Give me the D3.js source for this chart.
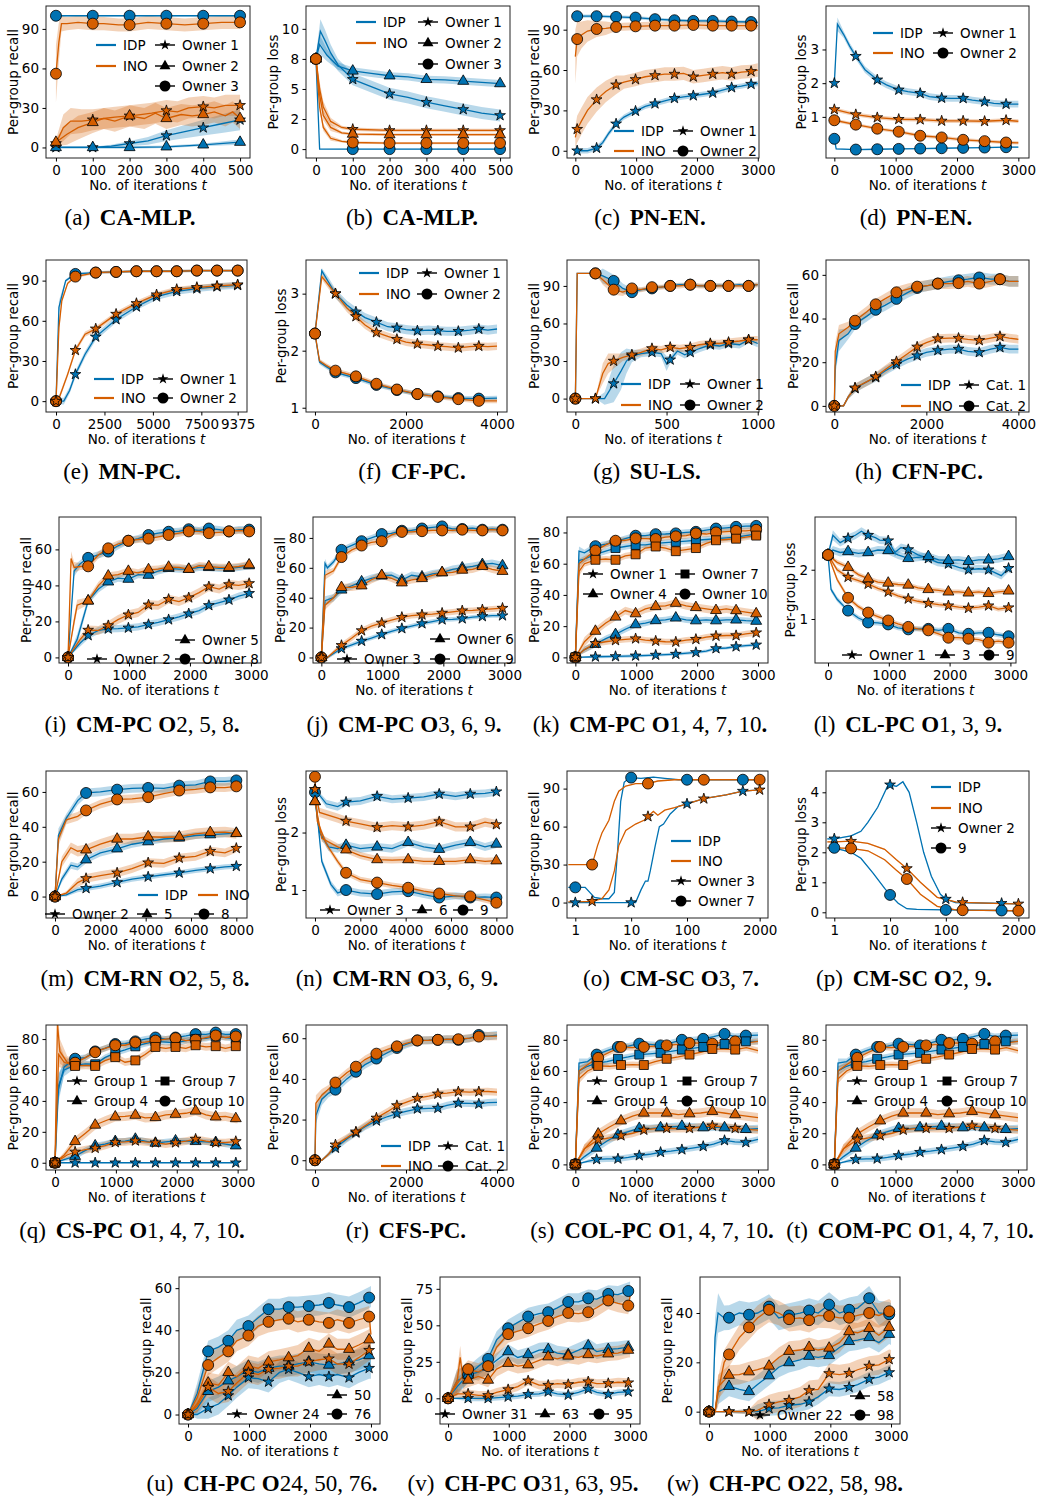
<!DOCTYPE html>
<meta charset="utf-8">
<style type="text/css">
body { margin: 0; background: #fff; }
svg text { font-family: 'DejaVu Sans', sans-serif; fill: #000; }
.tick text { font-size: 13.5px; }
.lab, .leg { font-size: 13.5px; }
.cap { font-family: 'Liberation Serif', 'Times New Roman', serif; font-size: 23px; white-space: pre; }
</style>
<body>
<svg id="fig" width="1045" height="1498"></svg>
<script src="https://cdnjs.cloudflare.com/ajax/libs/d3/7.8.5/d3.min.js"></script>
<script>
// ---- tick values ----
var xtA = [0,100,200,300,400,500];
var xt3k = [0,1000,2000,3000];
var xt4k = [0,2000,4000];
var xt1k = [0,500,1000];
var xtE = [0,2500,5000,7500,9375];
var xt8k = [0,2000,4000,6000,8000];
var xtLog = [1,10,100,2000];
var ytR90 = [0,30,60,90];
var ytR60 = [0,20,40,60];
var ytR80 = [0,20,40,60,80];
var ytR40 = [0,20,40];
var ytR75 = [0,25,50,75];
var ytB = [0,2.5,5,7.5,10];
var ytBlab = ["0","2","5","8","10"];
var yt123 = [1,2,3];
var yt12 = [1,2];
var ytP = [0,1,2,3,4];

// ---- where markers sit (iterations) ----
var mkA = [0,100,200,300,400,500];
var mkC = [30,350,670,990,1310,1630,1940,2260,2570,2890];
var mkD = [0,350,700,1050,1400,1750,2100,2450,2800];
var mkE = [0,1000,2050,3100,4150,5190,6230,7270,8310,9375];
var mkF = [0,450,900,1350,1800,2250,2700,3150,3600];
var mkG = [0,110,210,310,420,520,630,740,840,950];
var mkI = [0,330,660,990,1320,1650,1980,2310,2640,2970];
var mkM = [0,1370,2740,4110,5480,6850,8000];
var mkOi = [1,10,100,1000];
var mkOn = [2,20,200,2000];
var mkSn = [0,375,750,1125,1500,1875,2250,2625];

// ---- series: [iteration, mean, spread(optional)] ----
// (a) CA-MLP recall
var aIdp3 = [[0,100],[100,100],[200,100],[300,100],[400,100],[500,100]];
var aIdp1 = [[0,0,0.5],[100,0,0.5],[150,1,1],[200,3,2],[250,5,3],[300,9,4],[350,12,5],[400,15,6],[450,18,7],[500,21,8]];
var aIdp2 = [[0,0],[100,0],[200,0],[300,0.5],[400,2],[500,4,2]];
var aIno3 = [[0,56,22],[8,80,15],[15,94,6],[30,94],[60,95],[100,94],[130,94],[170,93],[200,93],[250,95],[300,94],[350,93],[400,94],[450,95],[500,95]];
var aIno1 = [[0,3,3],[20,15,10],[40,20,10],[70,20,9],[100,21],[130,22],[160,23],[200,24],[230,25],[260,26],[300,28],[330,27],[360,30],[400,31],[430,30],[460,32],[500,32]];
var aIno2 = [[0,4,3],[30,10,8],[60,15,9],[100,19],[130,22],[160,20],[200,24],[240,22],[270,26],[300,22],[340,25],[370,24],[400,25],[430,27],[460,24],[480,27],[500,22]];
// (b) CA-MLP loss
var bIdp1 = [[0,7.5,0.3],[12,9.8,1],[25,9,0.9],[40,8,0.7],[60,7,0.5],[100,5.8],[150,5.2],[200,4.6],[250,4.3],[300,3.9],[350,3.6],[400,3.3],[450,3.0],[500,2.8]];
var bIdp2 = [[0,7.5,0.3],[10,8.7,0.8],[30,7.8,0.5],[60,6.9],[100,6.5],[150,6.3],[200,6.1],[250,6.0],[300,5.8],[350,5.75],[400,5.65],[450,5.55],[500,5.45]];
var bIdp3 = [[0,7.5,0.2],[10,0,0],[100,0],[200,0],[300,0],[400,0],[500,0]];
var bIno1 = [[0,7.5,0.4],[10,5,0.6],[20,3.5,0.5],[40,2.3,0.3],[70,1.8],[100,1.65],[200,1.55],[300,1.55],[400,1.55],[500,1.55]];
var bIno2 = [[0,7.5,0.4],[10,4.5,0.5],[20,2.8,0.4],[40,1.8,0.3],[70,1.35],[100,1.25],[200,1.2],[300,1.2],[400,1.2],[500,1.2]];
var bIno3 = [[0,7.5,0.4],[10,3.5,0.4],[20,1.8,0.3],[40,0.9,0.2],[70,0.65],[100,0.55],[200,0.5],[300,0.5],[400,0.5],[500,0.5]];
// (c) PN-EN recall
var cIdp2 = [[0,100],[30,100],[350,100],[670,99.5],[990,99],[1310,97.8],[1630,97],[1940,96.5],[2260,96.5],[2570,96],[2890,95.7],[3000,95.5]];
var cIdp1 = [[0,0],[30,0],[200,0],[350,2],[450,6],[550,13],[670,20],[800,25],[990,29.5],[1150,33],[1310,35],[1470,37],[1630,39],[1780,40],[1940,41],[2100,42],[2260,43],[2420,45],[2570,47],[2730,48],[2890,49.5],[3000,50]];
var cIno2 = [[0,70,20],[30,83,13],[100,86,10],[200,89,8],[350,90.5,6],[500,91,5],[670,92],[990,92.5],[1310,93],[1630,93],[1940,93.5],[2260,93],[2570,93],[2890,93],[3000,93]];
var cIno1 = [[0,10,8],[30,16,10],[100,22,10],[200,30,10],[350,38,9],[500,44,8],[670,49,7],[800,51],[990,53],[1150,55],[1310,56],[1470,57],[1630,57],[1780,57.5],[1940,55],[2100,56],[2260,57],[2420,58],[2570,57],[2730,58.5],[2890,59],[3000,60]];
// (d) PN-EN loss
var dIdp1 = [[0,2.0,0.2],[50,3.75,0.2],[150,3.45],[250,3.1],[350,2.8],[500,2.4],[700,2.1],[850,1.95],[1050,1.8],[1200,1.75],[1400,1.7],[1550,1.6],[1750,1.56],[1900,1.55],[2100,1.55],[2250,1.5],[2450,1.45],[2600,1.4],[2800,1.38],[3000,1.38]];
var dIdp2 = [[0,0.35,0.03],[30,0.05],[350,0.03],[700,0.04],[1050,0.05],[1400,0.06],[1750,0.07],[2100,0.08],[2450,0.09],[2800,0.1],[3000,0.1]];
var dIno1 = [[0,1.22],[350,1.07],[700,0.98],[1050,0.93],[1400,0.92],[1750,0.88],[2100,0.88],[2450,0.87],[2800,0.9],[3000,0.87]];
var dIno2 = [[0,0.9],[350,0.77],[700,0.65],[1050,0.56],[1400,0.44],[1750,0.39],[2100,0.32],[2450,0.28],[2800,0.24],[3000,0.23]];
// (e) MN-PC recall
var eIdp2 = [[0,0],[150,70,5],[500,90],[1000,95],[2050,96],[3100,96.5],[4150,97],[5190,97],[6230,97],[7270,97.5],[8310,97.5],[9375,97.5]];
var eIdp1 = [[0,0],[400,0],[700,8],[1000,20],[1500,35],[2050,48],[3100,61],[4150,70.5],[5190,78],[6230,82],[7270,84],[8310,85.5],[9375,86.5]];
var eIno2 = [[0,0],[150,55,5],[300,75],[600,88],[1000,93],[2050,96],[3100,96.5],[4150,97],[5190,97],[6230,97],[7270,97.5],[8310,97.5],[9375,97.5]];
var eIno1 = [[0,0],[100,0],[300,8],[600,20],[1000,38],[1500,50],[2050,54],[3100,65],[4150,73],[5190,79.5],[6230,83.5],[7270,85],[8310,86],[9375,87]];
// (f) CF-PC loss
var fIdp1 = [[0,2.3,0.03],[150,3.4,0.05],[300,3.2],[450,3.0],[700,2.8],[900,2.68],[1100,2.58],[1350,2.5],[1600,2.42],[1800,2.4],[2000,2.37],[2250,2.35],[2500,2.36],[2700,2.35],[2900,2.34],[3150,2.34],[3400,2.36],[3600,2.38],[3800,2.36],[4000,2.38]];
var fIdp2 = [[0,2.3,0.03],[100,1.8],[250,1.72],[450,1.62],[900,1.52],[1350,1.4],[1800,1.31],[2250,1.24],[2700,1.2],[3150,1.17],[3600,1.16],[4000,1.17]];
var fIno1 = [[0,2.3,0.03],[150,3.3,0.05],[300,3.15],[450,3.0],[700,2.75],[900,2.6],[1100,2.45],[1350,2.32],[1600,2.25],[1800,2.2],[2000,2.15],[2250,2.12],[2500,2.1],[2700,2.08],[2900,2.07],[3150,2.05],[3400,2.07],[3600,2.08],[3800,2.07],[4000,2.08]];
var fIno2 = [[0,2.3,0.03],[100,1.82],[250,1.74],[450,1.65],[900,1.55],[1350,1.42],[1800,1.32],[2250,1.24],[2700,1.19],[3150,1.15],[3600,1.12],[4000,1.12]];
// (g) SU-LS recall
var gIdp2 = [[0,0,0],[10,100,0],[110,100,0],[150,98,6],[210,94,5],[260,88,4],[310,85,3],[360,87],[420,88],[470,89],[520,90],[570,91],[630,91],[680,90],[740,90],[790,90.5],[840,90],[900,91],[950,90],[1000,91]];
var gIdp1 = [[0,0,0],[110,0,0],[160,0,5],[210,12,15],[250,22,15],[280,30,10],[310,34,5],[360,36],[420,37],[470,36],[500,28,6],[520,31],[560,38],[600,35],[630,37],[680,40],[740,43],[790,42],[840,44],[900,43],[950,47],[1000,44]];
var gIno2 = [[0,0,0],[10,100,0],[110,100,0],[150,95,4],[210,87,4],[260,85,3],[310,88],[360,87],[420,89],[470,89],[520,90],[570,90],[630,91],[680,90],[740,90],[790,90],[840,90],[900,90],[950,90],[1000,91]];
var gIno1 = [[0,0,0],[110,0,0],[150,20,8],[180,28,8],[210,30,6],[260,33],[310,35],[360,37],[420,40],[470,39],[520,41],[570,40],[630,41],[680,43],[740,44],[790,44],[840,45],[900,46],[950,47],[1000,47]];
// (h) CFN-PC recall
var hIdp2 = [[0,0,0],[20,18,4],[100,30,5],[300,33],[450,37.5],[700,41],[900,44],[1100,46],[1350,49],[1600,52],[1800,54],[2000,55],[2250,56],[2500,57],[2700,57.5],[2900,58],[3150,58.8],[3400,58],[3600,58],[3800,57],[4000,57]];
var hIdp1 = [[0,0,0],[200,0,0.5],[300,4,1],[450,8],[700,11],[900,13],[1100,16],[1350,19],[1600,21.5],[1800,23],[2000,24.5],[2250,25.4],[2500,26],[2700,26],[2900,25],[3150,24.5],[3400,26],[3600,26.8],[3800,26],[4000,26]];
var hIno2 = [[0,0,0],[20,25,4],[100,33,4],[300,36],[450,39],[700,43],[900,46.5],[1100,49],[1350,52],[1600,53.5],[1800,54.6],[2000,55],[2250,56],[2500,56],[2700,56.2],[2900,57],[3150,56],[3400,57],[3600,58],[3800,57],[4000,57]];
var hIno1 = [[0,0,0],[200,0,0.5],[300,4,1],[450,8.3],[700,11],[900,13.4],[1100,16.5],[1350,20.3],[1600,24],[1800,27],[2000,29],[2250,30.8],[2500,31],[2700,31],[2900,30.5],[3150,30],[3400,31],[3600,31.8],[3800,31],[4000,30.5]];
// (i) CM-PC O2,5,8
var iIdp8 = [[0,0,0],[100,48,3],[200,52],[330,55.3],[500,57],[660,58.8],[820,62],[990,64.8],[1150,66],[1320,68],[1480,69],[1650,69.8],[1820,70],[1980,71.2],[2150,70.5],[2310,71.6],[2480,71],[2640,70],[2800,71],[2970,71],[3000,71]];
var iIdp5 = [[0,0,0],[150,10,3],[330,31.4],[500,38],[660,42],[820,44],[990,43.5],[1150,46],[1320,45.7],[1480,48],[1650,49.5],[1820,49],[1980,49],[2150,50],[2310,50],[2480,49.5],[2640,49.5],[2800,50],[2970,51],[3000,51]];
var iIdp2 = [[0,0,0],[200,8,2],[330,12.2],[500,15],[660,15.9],[820,16],[990,16.4],[1150,17],[1320,18.3],[1480,19.5],[1650,21],[1820,22.5],[1980,24.3],[2150,26],[2310,28.9],[2480,30.5],[2640,32],[2800,34],[2970,35.6],[3000,36]];
var iIno8 = [[0,0,0],[50,55,4],[100,50,3],[200,50.5],[330,50.6],[500,57],[660,60.6],[820,63],[990,64.8],[1150,65.5],[1320,66],[1480,67],[1650,68],[1820,69],[1980,70],[2150,70],[2310,69],[2480,69.5],[2640,70],[2800,70.5],[2970,70],[3000,70]];
var iIno5 = [[0,0,0],[100,20,3],[150,29,3],[330,31.4],[500,40],[660,45.3],[820,46],[990,47.9],[1150,47],[1320,48.8],[1480,49],[1650,50.2],[1820,50],[1980,49],[2150,51],[2310,50.5],[2480,50],[2640,50],[2800,50.5],[2970,51.5],[3000,51.5]];
var iIno2 = [[0,0,0],[200,10,2],[330,15.2],[500,15],[660,17.7],[820,21],[990,23.7],[1150,25],[1320,29.2],[1480,29],[1650,32.3],[1820,31],[1980,33.2],[2150,36],[2310,39.3],[2480,38],[2640,40.5],[2800,40],[2970,41.1],[3000,41]];
// (j) CM-PC O3,6,9
var jIdp9 = [[0,0,0],[60,63,3],[100,60],[200,64],[330,72],[500,75],[660,77.8],[820,80],[990,82.6],[1150,83],[1320,84.8],[1480,85],[1650,86.3],[1820,87],[1980,87.7],[2150,86],[2310,86],[2480,86.5],[2640,85.5],[2800,86],[2970,85.5],[3000,86]];
var jIdp6 = [[0,0,0],[60,38,3],[200,40],[330,45.2],[500,48],[660,50.7],[820,53],[990,54.6],[1150,55],[1320,51.8],[1480,55],[1650,54],[1820,56],[1980,56.8],[2150,59],[2310,60],[2480,61],[2640,62.3],[2800,63],[2970,61.5],[3000,62]];
var jIdp3 = [[0,0,0],[100,0,1],[330,6],[500,8.5],[660,11],[820,13],[990,15.4],[1150,17.5],[1320,19.4],[1480,21],[1650,22.7],[1820,24],[1980,25.3],[2150,25.5],[2310,26],[2480,27],[2640,27.5],[2800,28],[2970,28],[3000,28]];
var jIno9 = [[0,0,0],[60,55,3],[200,58],[330,67.2],[500,72],[660,74.9],[820,77],[990,77.8],[1150,82],[1320,84],[1480,84],[1650,84.5],[1820,85],[1980,85],[2150,85],[2310,85.5],[2480,85],[2640,85],[2800,85.5],[2970,85],[3000,85]];
var jIno6 = [[0,0,0],[60,35,3],[200,40],[330,46.9],[500,47],[660,48],[820,52],[990,55],[1150,53],[1320,50],[1480,52],[1650,52.9],[1820,55],[1980,56.8],[2150,57],[2310,58.5],[2480,59],[2640,61],[2800,59],[2970,57.7],[3000,58]];
var jIno3 = [[0,0,0],[100,0,1],[330,8.1],[500,13],[660,18],[820,21],[990,23.1],[1150,25],[1320,26.9],[1480,28],[1650,28.6],[1820,29],[1980,29.7],[2150,30.5],[2310,31.3],[2480,31.5],[2640,32],[2800,32.5],[2970,33],[3000,33]];
// (k) CM-PC O1,4,7,10
var kIdp10 = [[0,0,0],[60,68,3],[150,67],[330,71.2],[500,72.5],[660,74.1],[820,76],[990,77.9],[1150,78],[1320,78.9],[1480,79],[1650,79.4],[1820,80],[1980,80.4],[2150,81.5],[2310,82.5],[2480,83],[2640,83.6],[2800,84],[2970,84.2],[3000,84]];
var kIdp7 = [[0,0,0],[60,62,3],[150,63],[330,66],[500,68],[660,70],[820,71],[990,72],[1150,72],[1320,73],[1480,73.5],[1650,74],[1820,74.5],[1980,75],[2150,75.5],[2310,76],[2480,76.5],[2640,77],[2800,78],[2970,79],[3000,79]];
var kIdp4 = [[0,0,0],[150,5,2],[330,8.4],[500,12],[660,14.7],[820,18],[990,21],[1150,22],[1320,23.6],[1480,24],[1650,25.3],[1820,24],[1980,23.5],[2150,24],[2310,23.5],[2480,24],[2640,24],[2800,23.5],[2970,23.2],[3000,23]];
var kIdp1 = [[0,0,0],[330,0.4],[660,0.6],[990,1],[1320,1.5],[1650,2.1],[1980,3.2],[2150,4],[2310,5.7],[2480,6],[2640,6.9],[2800,7.5],[2970,8],[3000,8]];
var kIno10 = [[0,0,0],[60,60,3],[150,63],[330,68.4],[500,72],[660,74.7],[820,75],[990,76.2],[1150,76],[1320,75.8],[1480,77],[1650,77.5],[1820,78],[1980,79.4],[2150,79],[2310,80],[2480,80.5],[2640,81],[2800,81],[2970,81.7],[3000,82]];
var kIno7 = [[0,0,0],[60,55,3],[150,60],[330,62.5],[500,63],[660,62.5],[820,65],[990,66],[1150,70],[1320,71],[1480,70],[1650,68],[1820,69],[1980,70],[2150,73],[2310,75],[2480,75.5],[2640,76],[2800,77],[2970,78],[3000,78]];
var kIno4 = [[0,0,0],[150,10,3],[330,16.8],[500,22],[660,25.9],[820,30],[990,28],[1150,31],[1320,32.6],[1480,33],[1650,34.7],[1820,33],[1980,32],[2150,31],[2310,30.1],[2480,31],[2640,30],[2800,29],[2970,28],[3000,28]];
var kIno1 = [[0,0,0],[150,5,2],[330,9],[500,10],[660,10.9],[820,11.5],[990,12],[1150,11],[1320,10.5],[1480,10],[1650,9.9],[1820,11],[1980,11.6],[2150,13],[2310,13.7],[2480,14],[2640,14],[2800,15],[2970,15.8],[3000,16]];
// (l) CL-PC O1,3,9 loss
var lIdp1 = [[0,2.3,0.05],[80,2.7,0.1],[200,2.55],[330,2.64],[450,2.7],[550,2.78],[660,2.7],[780,2.65],[850,2.6],[990,2.59],[1100,2.35],[1200,2.45],[1320,2.41],[1480,2.3],[1650,2.23],[1800,2.15],[1980,2.12],[2150,2.05],[2310,2.0],[2480,2.02],[2640,2.0],[2850,1.88],[2970,2.03],[3000,2.0]];
var lIdp3 = [[0,2.3,0.05],[80,2.4],[200,2.35],[330,2.37],[500,2.33],[660,2.35],[820,2.4],[990,2.39],[1150,2.3],[1320,2.23],[1480,2.25],[1650,2.27],[1820,2.2],[1980,2.19],[2150,2.2],[2310,2.17],[2480,2.2],[2640,2.2],[2800,2.22],[2970,2.27],[3000,2.25]];
var lIdp9 = [[0,2.3,0.03],[50,1.6],[150,1.4],[330,1.17],[500,1.02],[660,0.93],[820,0.92],[990,0.89],[1150,0.82],[1320,0.79],[1480,0.8],[1650,0.8],[1820,0.77],[1980,0.8],[2150,0.72],[2310,0.7],[2480,0.72],[2640,0.72],[2800,0.68],[2970,0.65],[3000,0.66]];
var lIno3 = [[0,2.3,0.03],[150,2.15],[330,2.05],[500,1.9],[660,1.82],[820,1.75],[990,1.73],[1150,1.7],[1320,1.69],[1480,1.63],[1650,1.6],[1820,1.58],[1980,1.55],[2150,1.55],[2310,1.53],[2480,1.55],[2640,1.52],[2800,1.55],[2970,1.57],[3000,1.57]];
var lIno1 = [[0,2.3,0.03],[150,2.0],[330,1.85],[500,1.78],[660,1.71],[820,1.62],[990,1.55],[1150,1.47],[1320,1.41],[1480,1.36],[1650,1.32],[1820,1.29],[1980,1.27],[2150,1.24],[2310,1.22],[2480,1.24],[2640,1.27],[2800,1.2],[2970,1.23],[3000,1.22]];
var lIno9 = [[0,2.3,0.03],[150,1.8],[330,1.43],[500,1.25],[660,1.13],[820,1.05],[990,0.97],[1150,0.9],[1320,0.84],[1480,0.8],[1650,0.77],[1820,0.7],[1980,0.62],[2150,0.62],[2310,0.6],[2480,0.58],[2640,0.52],[2800,0.55],[2970,0.52],[3000,0.52]];
// (m) CM-RN O2,5,8
var mIdp8 = [[0,0,0],[150,35,4],[500,45],[1000,55],[1370,59.4],[2000,60],[2740,61.3],[3400,62],[4110,62.3],[4800,62],[5480,63.6],[6200,64],[6850,66],[7500,66],[8000,66.6]];
var mIdp5 = [[0,0,0],[300,10,2],[700,18],[1000,17],[1370,21.1],[2000,25],[2740,27.4],[3400,30],[4110,31.5],[4800,33],[5480,33.6],[6200,35],[6850,35.5],[7500,36],[8000,36.4]];
var mIdp2 = [[0,0,0],[500,1,1],[1000,4],[1370,4.7],[2000,6],[2740,8.1],[3400,10],[4110,11.3],[4800,12.5],[5480,13.6],[6200,15],[6850,16],[7500,17],[8000,17.4]];
var mIno8 = [[0,0,0],[150,33,4],[500,44],[1000,46],[1370,49.4],[2000,53],[2740,55.7],[3400,56],[4110,57],[4800,59],[5480,60.8],[6200,61.5],[6850,62.6],[7500,62.5],[8000,63.2]];
var mIno5 = [[0,0,0],[300,20,3],[700,28],[1000,26],[1370,26.8],[2000,30],[2740,33],[3400,33],[4110,34.3],[4800,34],[5480,34.3],[6200,36],[6850,36.8],[7500,37],[8000,36.2]];
var mIno2 = [[0,0,0],[500,2,1],[1000,8],[1370,10.4],[2000,12],[2740,13.6],[3400,16],[4110,19.4],[4800,19],[5480,22.1],[6200,23],[6850,26],[7500,25],[8000,27.7]];
// (n) CM-RN O3,6,9 loss
var nIdp3 = [[0,2.75,0.03],[500,2.5],[1000,2.45],[1370,2.53],[2000,2.55],[2740,2.63],[3400,2.58],[4110,2.6],[4800,2.62],[5480,2.67],[6200,2.63],[6850,2.67],[7500,2.68],[8000,2.71]];
var nIdp6 = [[0,2.54,0.03],[200,2.0],[600,1.75],[1000,1.72],[1370,1.78],[2000,1.72],[2740,1.75],[3400,1.72],[4110,1.83],[4800,1.75],[5480,1.71],[6200,1.78],[6850,1.83],[7500,1.75],[8000,1.8]];
var nIdp9 = [[0,2.7,0.03],[300,1.5],[700,1.1],[1000,0.95],[1370,1.0],[2000,0.95],[2740,0.93],[3400,0.97],[4110,0.98],[4800,0.92],[5480,0.87],[6200,0.9],[6850,0.87],[7500,0.88],[8000,0.87]];
var nIno3 = [[0,2.75,0.03],[200,2.35],[1000,2.25],[1370,2.2],[2000,2.15],[2740,2.09],[3400,2.12],[4110,2.1],[4800,2.13],[5480,2.19],[6200,2.1],[6850,2.1],[7500,2.18],[8000,2.14]];
var nIno6 = [[0,2.54,0.03],[300,1.9],[1000,1.75],[1370,1.7],[2000,1.6],[2740,1.53],[3400,1.52],[4110,1.53],[4800,1.5],[5480,1.5],[6200,1.5],[6850,1.53],[7500,1.5],[8000,1.51]];
var nIno9 = [[0,2.97,0.03],[100,2.2],[500,1.8],[1000,1.5],[1370,1.3],[2000,1.18],[2740,1.13],[3400,1.08],[4110,1.04],[4800,0.98],[5480,0.94],[6200,0.9],[6850,0.89],[7500,0.83],[8000,0.78]];
// (o) CM-SC O3,7 recall (log t)
var oIdp7 = [[0.75,12],[1,12],[1.5,12],[2.2,4],[3,3],[4,3],[5,8],[5.7,40],[6.5,80],[7.5,95],[9,98],[10,98.7],[15,98],[25,99],[40,98],[70,97],[100,97],[300,97],[1000,97],[2000,97]];
var oIdp3 = [[0.75,0],[1,0],[10,0],[12,0],[15,10],[18,17],[20,17],[22,25],[27,45],[32,60],[38,62],[50,70],[70,76],[100,78],[200,82],[500,85],[1000,88],[2000,89]];
var oIno7 = [[0.75,30],[1,30],[2,30],[2.5,45],[3,55],[4,65],[5,80],[6,88],[8,92],[12,94],[20,94],[30,96],[60,97],[100,97],[200,97],[1000,97],[2000,97]];
var oIno3 = [[0.75,0.5],[1,0.5],[2,1],[3,3],[4,10],[5,25],[6,45],[8,57],[12,62],[17,65],[20,68],[25,72],[30,69],[40,73],[60,75],[100,78],[200,82],[500,85],[1000,88],[2000,89]];
// (p) CM-SC O2,9 loss (log t)
var pIdp2 = [[0.75,2.45],[1,2.45],[2,2.55],[3,2.7],[4,3.0],[6,3.5],[9,4.2],[10,4.25],[13,4.2],[17,4.35],[22,4.0],[30,3.0],[40,2.0],[55,1.2],[80,0.6],[100,0.44],[150,0.32],[1000,0.3],[2000,0.28]];
var pIdp9 = [[0.75,2.15],[1,2.15],[2,2.0],[3,1.8],[5,1.3],[8,0.8],[10,0.58],[14,0.3],[20,0.12],[30,0.1],[100,0.08],[1000,0.06],[2000,0.05]];
var pIno2 = [[0.75,2.35],[1,2.35],[2,2.37],[4,2.3],[8,2.1],[13,1.75],[20,1.46],[35,1.0],[70,0.5],[150,0.35],[200,0.33],[1000,0.29],[2000,0.28]];
var pIno9 = [[0.75,2.15],[1,2.15],[2,2.13],[4,2.05],[8,1.75],[13,1.4],[20,1.11],[35,0.6],[70,0.2],[150,0.08],[200,0.07],[1000,0.06],[2000,0.05]];
// (q) CS-PC O1,4,7,10
var qIdp10 = [[0,0,0],[40,45,10],[150,62,4],[330,67.3],[500,68],[660,72],[820,74],[990,76.8],[1150,77],[1320,78.5],[1480,80],[1650,81],[1820,80],[1980,81],[2150,82],[2310,83.2],[2480,83],[2640,84.2],[2800,83],[2970,83.2],[3000,83]];
var qIdp7 = [[0,0,0],[60,50,8],[150,60,4],[330,63.2],[500,64],[660,63.7],[820,68],[990,71],[1150,73],[1320,75.3],[1480,77],[1650,78.5],[1820,78],[1980,77.5],[2150,79],[2310,80],[2480,80.5],[2640,81.7],[2800,81],[2970,80.2],[3000,80]];
var qIdp4 = [[0,0,0],[150,2,1],[330,4.2],[500,8],[660,11],[820,12],[990,13.8],[1150,14],[1320,15.3],[1480,14],[1650,12.7],[1820,13.5],[1980,14.2],[2150,14],[2310,13.8],[2480,13.5],[2640,13.2],[2800,12],[2970,11],[3000,11]];
var qIdp1 = [[0,0],[330,0],[660,0],[990,0],[1320,0],[1650,0],[1980,0],[2310,0],[2640,0],[2970,0],[3000,0]];
var qIno10 = [[0,0,0],[40,90,12],[80,72,8],[200,65,4],[330,64.7],[500,68],[660,71.5],[820,74],[990,76],[1150,76],[1320,77.8],[1480,78],[1650,79],[1820,80],[1980,80.6],[2150,79],[2310,79.6],[2480,81],[2640,82.3],[2800,81],[2970,81.7],[3000,81]];
var qIno7 = [[0,0,0],[60,70,8],[150,65,4],[330,62.6],[500,63],[660,62.6],[820,66],[990,68.3],[1150,65],[1320,66.2],[1480,70],[1650,74.9],[1820,74],[1980,74.9],[2150,74],[2310,76],[2480,75],[2640,75.4],[2800,74],[2970,75.4],[3000,75]];
var qIno4 = [[0,0,0],[150,5,2],[330,13.8],[500,19],[660,24.4],[820,27],[990,29.7],[1150,30],[1320,30.8],[1480,29],[1650,29.3],[1820,31],[1980,31.4],[2150,32],[2310,33.5],[2480,31],[2640,29.7],[2800,30],[2970,28.6],[3000,28.5]];
var qIno1 = [[0,0,0],[200,5,2],[330,7],[500,8.5],[660,9.5],[820,11],[990,13.2],[1150,13.5],[1320,14.2],[1480,13.5],[1650,13],[1820,12],[1980,13],[2150,14],[2310,15.3],[2480,14],[2640,13],[2800,13],[2970,13.8],[3000,14]];
// (r) CFS-PC recall
var rIdp2 = [[0,0,0],[20,22,4],[150,30,3],[300,33],[450,34.7],[700,40],[900,43.5],[1100,47],[1350,50],[1600,53],[1800,55.2],[2000,57],[2250,58.9],[2500,59],[2700,59.2],[2900,59.5],[3150,59.2],[3400,60],[3600,61.6],[3800,61],[4000,61.5]];
var rIdp1 = [[0,0,0],[150,0,0.5],[300,3,1],[450,6],[700,10.5],[900,13.5],[1100,16.5],[1350,19.4],[1600,21.5],[1800,22.9],[2000,24],[2250,25.3],[2500,25.5],[2700,25.6],[2900,27],[3150,28.1],[3400,28],[3600,27.7],[3800,28.3],[4000,28.5]];
var rIno2 = [[0,0,0],[20,28,4],[150,32,3],[300,35],[450,38.2],[700,43],[900,46],[1100,49.5],[1350,52.4],[1600,54.5],[1800,56],[2000,57.5],[2250,58.9],[2500,59],[2700,59.2],[2900,59.5],[3150,59.5],[3400,60],[3600,60.8],[3800,61],[4000,61]];
var rIno1 = [[0,0,0],[150,0,0.5],[300,3,1],[450,7.6],[700,11],[900,14],[1100,17],[1350,20.8],[1600,24],[1800,26.9],[2000,28.5],[2250,30.5],[2500,31.5],[2700,32.6],[2900,33],[3150,33.7],[3400,33.5],[3600,33.7],[3800,33.8],[4000,33.5]];
// (s)/(t) COL-PC and COM-PC
var sIdp10 = [[0,0,0],[60,65,3],[200,66],[350,70.5],[520,73],[700,75.4],[870,76],[1050,77.5],[1220,77],[1400,76.4],[1570,78],[1750,80],[1920,80],[2100,80.6],[2270,82],[2450,83.8],[2620,82],[2800,82.7],[3000,83]];
var sIdp7 = [[0,0,0],[60,60,3],[200,63],[350,65],[520,66],[700,67.8],[870,69],[1050,70.5],[1220,71],[1400,71.6],[1570,72.5],[1750,73.7],[1920,74.5],[2100,75.4],[2270,76],[2450,77.3],[2620,78],[2800,79],[3000,79]];
var sIdp4 = [[0,0,0],[150,5,2],[350,10.5],[520,15],[700,18.9],[870,21],[1050,23.2],[1220,23],[1400,23.6],[1570,24],[1750,24.6],[1920,24],[2100,23.6],[2270,24],[2450,23.6],[2620,23],[2800,22.5],[3000,23]];
var sIdp1 = [[0,0,0],[200,2,1],[350,3.2],[520,3.5],[700,3.6],[870,4.5],[1050,5.7],[1220,6.5],[1400,7.8],[1570,8.5],[1750,9.5],[1920,10.5],[2100,11.6],[2270,13],[2450,15.4],[2620,14.5],[2800,14.1],[3000,16]];
var sIno10 = [[0,0,0],[60,60,3],[200,64],[375,68.4],[560,72],[750,75.4],[940,75],[1125,75.4],[1310,76],[1500,76.4],[1690,77],[1875,77.9],[2060,78],[2250,77.5],[2440,78.5],[2625,79],[2810,78],[3000,79]];
var sIno7 = [[0,0,0],[60,55,3],[200,60],[375,63.2],[560,63],[750,63.8],[940,64],[1125,63.8],[1310,66],[1500,67.8],[1690,69],[1875,70.5],[2060,72],[2250,74.1],[2440,74],[2625,73.7],[2810,75],[3000,73]];
var sIno4 = [[0,0,0],[150,10,3],[375,19.6],[560,24],[750,28],[940,31],[1125,33],[1310,33],[1500,33],[1690,32],[1875,32.6],[2060,33],[2250,34.1],[2440,33],[2625,32],[2810,31],[3000,30]];
var sIno1 = [[0,0,0],[150,10,3],[375,15.8],[560,17],[750,18.5],[940,20],[1125,22.1],[1310,23],[1500,23.2],[1690,23],[1875,23.2],[2060,24],[2250,24.8],[2440,24],[2625,23.2],[2810,22.5],[3000,22]];
// (u) CH-PC O24,50,76
var uIdp76 = [[0,0,0],[150,10,5],[330,30],[500,32],[660,35],[800,40],[990,42],[1150,46],[1320,50],[1500,50],[1650,51],[1800,51],[1980,51.5],[2150,52],[2310,53],[2450,52],[2640,51],[2800,53],[2970,55.5],[3000,56]];
var uIdp50 = [[0,0,0],[150,3,3],[330,11],[500,13],[660,16],[800,18],[990,21],[1150,20],[1320,22],[1500,23],[1650,23],[1800,24],[1980,25],[2150,24],[2310,23.5],[2450,24],[2640,25],[2800,26],[2970,28],[3000,28]];
var uIdp24 = [[0,0,0],[150,0,2],[330,3],[500,5],[660,9],[800,13],[990,17.5],[1150,17],[1320,15.5],[1500,20],[1650,21.5],[1800,20],[1980,18],[2150,19],[2310,18],[2450,19],[2640,17.5],[2800,20],[2970,22],[3000,22]];
var uIno76 = [[0,0,0],[150,8,5],[330,23.5],[500,27],[660,30],[800,35],[990,37.5],[1150,42],[1320,44],[1500,45],[1650,45.5],[1800,44],[1980,45],[2150,44],[2310,43.5],[2450,45],[2640,43.5],[2800,45],[2970,46.5],[3000,38]];
var uIno50 = [[0,0,0],[150,5,4],[330,15],[500,14],[660,20],[800,18],[990,23],[1150,22],[1320,25],[1500,26],[1650,27],[1800,28],[1980,31.5],[2150,30],[2310,33.5],[2450,31],[2640,31],[2800,33],[2970,35.5],[3000,36]];
var uIno24 = [[0,0,0],[150,4,3],[330,13],[500,10],[660,11],[800,15],[990,20],[1150,19],[1320,21.5],[1500,22],[1650,23],[1800,23],[1980,25],[2150,26],[2310,26.5],[2450,24],[2640,24],[2800,27],[2970,30.5],[3000,31]];
// (v) CH-PC O31,63,95
var vIdp95 = [[0,0,0],[150,12,8],[330,16],[500,22],[660,27],[800,40],[990,48],[1150,52],[1320,56],[1500,58],[1650,59],[1800,62],[1980,66],[2150,66],[2310,68.5],[2450,68],[2640,71.5],[2800,71],[2970,73.5],[3000,74]];
var vIdp63 = [[0,0,0],[150,8,6],[330,16],[500,18],[660,21.5],[800,26],[990,32],[1150,28],[1320,30],[1500,33],[1650,33.5],[1800,31],[1980,30],[2150,33],[2310,36],[2450,32],[2640,33.5],[2800,34],[2970,35],[3000,35]];
var vIdp31 = [[0,0,0],[330,0],[660,0],[990,1],[1150,1.5],[1320,2.7],[1500,3],[1650,4.5],[1800,3],[1980,2.3],[2150,4],[2310,6.4],[2450,4],[2640,2.7],[2800,4],[2970,4.5],[3000,5]];
var vIno95 = [[0,0,0],[150,10,8],[330,20],[500,18],[660,22],[800,35],[990,44],[1150,46],[1320,48],[1500,51],[1650,53],[1800,56],[1980,58.5],[2150,58],[2310,59],[2450,62],[2640,67],[2800,65],[2970,63.5],[3000,70]];
var vIno63 = [[0,0,0],[150,12,8],[200,28,8],[250,12,6],[330,12.5],[500,15],[660,12.5],[800,20],[990,24],[1150,22],[1320,23],[1500,26],[1650,28.5],[1800,27],[1980,29],[2150,28],[2310,30],[2450,29],[2640,30.5],[2800,31],[2970,33],[3000,33]];
var vIno31 = [[0,0,0],[150,3,3],[330,3],[500,2],[660,2],[800,4],[990,6],[1150,8],[1320,12],[1500,9],[1650,9],[1800,10],[1980,9.5],[2150,11],[2310,11.4],[2450,10],[2640,10.2],[2800,11],[2970,10.7],[3000,11]];
// (w) CH-PC O22,58,98
var wIdp98 = [[0,0,0],[60,0,1],[100,30,8],[150,40,8],[250,38],[330,38.1],[500,40],[660,39.3],[800,40],[990,42.6],[1150,38],[1320,39],[1500,40],[1650,41],[1800,40],[1980,43.4],[2150,40],[2310,41.3],[2450,42],[2640,46],[2800,40],[2970,39.5],[3000,39]];
var wIdp58 = [[0,0,0],[100,0,1],[150,8,5],[330,10.3],[500,9],[660,8.2],[800,11],[990,14.6],[1150,18],[1320,19.9],[1500,21],[1650,22.5],[1800,22],[1980,22.8],[2150,26],[2310,28.5],[2450,29],[2640,30.1],[2800,28],[2970,31.4],[3000,31]];
var wIdp22 = [[0,0,0],[330,0,0.5],[660,0,1],[800,0],[990,1.3],[1150,1.5],[1320,2.6],[1500,3],[1650,4],[1800,6],[1980,9.3],[2150,9],[2310,9.9],[2450,11],[2640,13.2],[2800,14],[2970,15.9],[3000,16]];
var wIno98 = [[0,0,0],[100,0,1],[150,8,6],[250,20],[330,23.2],[500,30],[660,34.2],[800,38],[990,41.3],[1150,40],[1320,37.5],[1500,38],[1650,37.1],[1800,39],[1980,38.8],[2150,38],[2310,38.1],[2450,39],[2640,40],[2800,39],[2970,40.7],[3000,40]];
var wIno58 = [[0,0,0],[100,0,1],[150,10,5],[330,14.8],[500,15],[660,16.2],[800,17],[990,18.5],[1150,22],[1320,24.5],[1500,25],[1650,26.1],[1800,25],[1980,25.8],[2150,28],[2310,32.5],[2450,32],[2640,33.8],[2800,31],[2970,34.2],[3000,34]];
var wIno22 = [[0,0,0],[330,0,0.5],[660,0,1],[800,0.5],[990,2.9],[1150,4],[1320,4.6],[1500,6],[1650,8.6],[1800,9],[1980,15.5],[2150,15],[2310,15.6],[2450,17],[2640,18.5],[2800,19],[2970,21.2],[3000,21]];

var REC = "Per-group recall", LOSS = "Per-group loss";

// panel layout + which arrays each panel draws
var panels = [
 {id:"a", box:[46,6,250,158], xd:[-27,527], yd:[-8,107.4], xt:xtA, yt:ytR90, yl:REC, cap:["(a)","CA-MLP.","",""], cx:130, cy:225,
  series:[{c:"IDP",k:"circle",d:aIdp3,mk:mkA,sd:0.5},{c:"IDP",k:"star",d:aIdp1,mk:mkA,sd:3},{c:"IDP",k:"triangle",d:aIdp2,mk:mkA,sd:1},
          {c:"INO",k:"circle",d:aIno3,mk:mkA,sd:5},{c:"INO",k:"star",d:aIno1,mk:mkA,sd:8},{c:"INO",k:"triangle",d:aIno2,mk:mkA,sd:8}],
  legend:[["IDP","IDP",106,45],["INO","INO",106,66],["star","Owner 1",165,45],["triangle","Owner 2",165,66],["circle","Owner 3",165,86]]},
 {id:"b", box:[306,6,510,158], xd:[-27,527], yd:[-0.74,11.9], xt:xtA, yt:ytB, ytl:ytBlab, yl:LOSS, cap:["(b)","CA-MLP.","",""], cx:412, cy:225,
  series:[{c:"IDP",k:"star",d:bIdp1,mk:mkA,sd:0.5},{c:"IDP",k:"triangle",d:bIdp2,mk:mkA,sd:0.3},{c:"IDP",k:"circle",d:bIdp3,mk:mkA,sd:0.05},
          {c:"INO",k:"star",d:bIno1,mk:mkA,sd:0.15},{c:"INO",k:"triangle",d:bIno2,mk:mkA,sd:0.12},{c:"INO",k:"circle",d:bIno3,mk:mkA,sd:0.1}],
  legend:[["IDP","IDP",366,22],["INO","INO",366,43],["star","Owner 1",428,22],["triangle","Owner 2",428,43],["circle","Owner 3",428,64]]},
 {id:"c", box:[567,6,759,158], xd:[-137,3020], yd:[-5.4,107.6], xt:xt3k, yt:ytR90, yl:REC, cap:["(c)","PN-EN.","",""], cx:650, cy:225,
  series:[{c:"IDP",k:"circle",d:cIdp2,mk:mkC,sd:1.2},{c:"IDP",k:"star",d:cIdp1,mk:mkC,sd:2},
          {c:"INO",k:"circle",d:cIno2,mk:mkC,sd:3},{c:"INO",k:"star",d:cIno1,mk:mkC,sd:5}],
  legend:[["IDP","IDP",624,131],["INO","INO",624,151],["star","Owner 1",683,131],["circle","Owner 2",683,151]]},
 {id:"d", box:[826,6,1029,158], xd:[-136,3174], yd:[-0.22,4.29], xt:xt3k, yt:yt123, yl:LOSS, cap:["(d)","PN-EN.","",""], cx:916, cy:225,
  series:[{c:"IDP",k:"star",d:dIdp1,mk:mkD,sd:0.1},{c:"IDP",k:"circle",d:dIdp2,mk:mkD,sd:0.02},
          {c:"INO",k:"star",d:dIno1,mk:mkD,sd:0.06},{c:"INO",k:"circle",d:dIno2,mk:mkD,sd:0.05}],
  legend:[["IDP","IDP",883,33],["INO","INO",883,53],["star","Owner 1",943,33],["circle","Owner 2",943,53]]},

 {id:"e", box:[46,260,247,412], xd:[-517,9857], yd:[-8.1,105.4], xt:xtE, yt:ytR90, yl:REC, cap:["(e)","MN-PC.","",""], cx:122, cy:479,
  series:[{c:"IDP",k:"circle",d:eIdp2,mk:mkE,sd:1},{c:"IDP",k:"star",d:eIdp1,mk:mkE,sd:2.5},
          {c:"INO",k:"circle",d:eIno2,mk:mkE,sd:1},{c:"INO",k:"star",d:eIno1,mk:mkE,sd:2}],
  legend:[["IDP","IDP",104,379],["INO","INO",104,398],["star","Owner 1",163,379],["circle","Owner 2",163,398]]},
 {id:"f", box:[306,260,507,412], xd:[-197,4219], yd:[0.925,3.59], xt:xt4k, yt:yt123, yl:LOSS, cap:["(f)","CF-PC.","",""], cx:412, cy:479,
  series:[{c:"IDP",k:"star",d:fIdp1,mk:mkF,sd:0.08},{c:"IDP",k:"circle",d:fIdp2,mk:mkF,sd:0.04},
          {c:"INO",k:"star",d:fIno1,mk:mkF,sd:0.07},{c:"INO",k:"circle",d:fIno2,mk:mkF,sd:0.04}],
  legend:[["IDP","IDP",369,273],["INO","INO",369,294],["star","Owner 1",427,273],["circle","Owner 2",427,294]]},
 {id:"g", box:[567,260,759,412], xd:[-46,1007], yd:[-10.7,110.7], xt:xt1k, yt:ytR90, yl:REC, cap:["(g)","SU-LS.","",""], cx:647, cy:479,
  series:[{c:"IDP",k:"circle",d:gIdp2,mk:mkG,sd:1.5},{c:"IDP",k:"star",d:gIdp1,mk:mkG,sd:3},
          {c:"INO",k:"circle",d:gIno2,mk:mkG,sd:2},{c:"INO",k:"star",d:gIno1,mk:mkG,sd:3}],
  legend:[["IDP","IDP",631,384],["INO","INO",631,405],["star","Owner 1",690,384],["circle","Owner 2",690,405]]},
 {id:"h", box:[826,260,1029,412], xd:[-181,4231], yd:[-2.8,66.8], xt:xt4k, yt:ytR60, yl:REC, cap:["(h)","CFN-PC.","",""], cx:919, cy:479,
  series:[{c:"IDP",k:"circle",d:hIdp2,mk:mkF,sd:2.5},{c:"IDP",k:"star",d:hIdp1,mk:mkF,sd:2},
          {c:"INO",k:"circle",d:hIno2,mk:mkF,sd:2.5},{c:"INO",k:"star",d:hIno1,mk:mkF,sd:2}],
  legend:[["IDP","IDP",911,385],["INO","INO",911,406],["star","Cat. 1",969,385],["circle","Cat. 2",969,406]]},

 {id:"i", box:[59,517,261,663], xd:[-148,3165], yd:[-3.1,78], xt:xt3k, yt:ytR60, yl:REC, cap:["(i)","CM-PC O","2, 5, 8","."], cx:142, cy:732,
  series:[{c:"IDP",k:"circle",d:iIdp8,mk:mkI,sd:2},{c:"IDP",k:"triangle",d:iIdp5,mk:mkI,sd:2},{c:"IDP",k:"star",d:iIdp2,mk:mkI,sd:2},
          {c:"INO",k:"circle",d:iIno8,mk:mkI,sd:2},{c:"INO",k:"triangle",d:iIno5,mk:mkI,sd:2},{c:"INO",k:"star",d:iIno2,mk:mkI,sd:2.5}],
  legend:[["triangle","Owner 5",185,640],["star","Owner 2",97,659],["circle","Owner 8",185,659]]},
 {id:"j", box:[313,517,515,663], xd:[-137,3175], yd:[-3.7,94], xt:xt3k, yt:ytR80, yl:REC, cap:["(j)","CM-PC O","3, 6, 9","."], cx:404, cy:732,
  series:[{c:"IDP",k:"circle",d:jIdp9,mk:mkI,sd:2},{c:"IDP",k:"triangle",d:jIdp6,mk:mkI,sd:2.5},{c:"IDP",k:"star",d:jIdp3,mk:mkI,sd:1.5},
          {c:"INO",k:"circle",d:jIno9,mk:mkI,sd:2},{c:"INO",k:"triangle",d:jIno6,mk:mkI,sd:2.5},{c:"INO",k:"star",d:jIno3,mk:mkI,sd:2}],
  legend:[["triangle","Owner 6",440,639],["star","Owner 3",347,659],["circle","Owner 9",440,659]]},
 {id:"k", box:[567,517,768,663], xd:[-137,3164], yd:[-3.6,89.9], xt:xt3k, yt:ytR80, yl:REC, cap:["(k)","CM-PC O","1, 4, 7, 10","."], cx:650, cy:732,
  series:[{c:"IDP",k:"circle",d:kIdp10,mk:mkI,sd:2},{c:"IDP",k:"square",d:kIdp7,mk:mkI,sd:2},{c:"IDP",k:"triangle",d:kIdp4,mk:mkI,sd:2},{c:"IDP",k:"star",d:kIdp1,mk:mkI,sd:1},
          {c:"INO",k:"circle",d:kIno10,mk:mkI,sd:2},{c:"INO",k:"square",d:kIno7,mk:mkI,sd:2},{c:"INO",k:"triangle",d:kIno4,mk:mkI,sd:2.5},{c:"INO",k:"star",d:kIno1,mk:mkI,sd:2}],
  legend:[["star","Owner 1",593,574],["square","Owner 7",685,574],["triangle","Owner 4",593,594],["circle","Owner 10",685,594]]},
 {id:"l", box:[815,517,1016,663], xd:[-214,3092], yd:[0.107,3.07], xt:xt3k, yt:yt12, yl:LOSS, cap:["(l)","CL-PC O","1, 3, 9","."], cx:908, cy:732,
  series:[{c:"IDP",k:"star",d:lIdp1,mk:mkI,sd:0.08},{c:"IDP",k:"triangle",d:lIdp3,mk:mkI,sd:0.08},{c:"IDP",k:"circle",d:lIdp9,mk:mkI,sd:0.05},
          {c:"INO",k:"star",d:lIno1,mk:mkI,sd:0.05},{c:"INO",k:"triangle",d:lIno3,mk:mkI,sd:0.05},{c:"INO",k:"circle",d:lIno9,mk:mkI,sd:0.05}],
  legend:[["star","Owner 1",852,655],["triangle","3",945,655],["circle","9",989,655]]},

 {id:"m", box:[46,771,247,918], xd:[-398,8471], yd:[-12.3,72], xt:xt8k, yt:ytR60, yl:REC, cap:["(m)","CM-RN O","2, 5, 8","."], cx:145, cy:986,
  series:[{c:"IDP",k:"circle",d:mIdp8,mk:mkM,sd:2.5},{c:"IDP",k:"triangle",d:mIdp5,mk:mkM,sd:2},{c:"IDP",k:"star",d:mIdp2,mk:mkM,sd:1.5},
          {c:"INO",k:"circle",d:mIno8,mk:mkM,sd:2.5},{c:"INO",k:"triangle",d:mIno5,mk:mkM,sd:3},{c:"INO",k:"star",d:mIno2,mk:mkM,sd:2.5}],
  legend:[["IDP","IDP",148,895],["INO","INO",208,895],["star","Owner 2",55,914],["triangle","5",147,914],["circle","8",204,914]]},
 {id:"n", box:[306,771,507,918], xd:[-396,8470], yd:[0.514,3.07], xt:xt8k, yt:yt12, yl:LOSS, cap:["(n)","CM-RN O","3, 6, 9","."], cx:397, cy:986,
  series:[{c:"IDP",k:"star",d:nIdp3,mk:mkM,sd:0.07},{c:"IDP",k:"triangle",d:nIdp6,mk:mkM,sd:0.07},{c:"IDP",k:"circle",d:nIdp9,mk:mkM,sd:0.06},
          {c:"INO",k:"star",d:nIno3,mk:mkM,sd:0.08},{c:"INO",k:"triangle",d:nIno6,mk:mkM,sd:0.06},{c:"INO",k:"circle",d:nIno9,mk:mkM,sd:0.05}],
  legend:[["star","Owner 3",330,910],["triangle","6",422,910],["circle","9",463,910]]},
 {id:"o", box:[567,771,768,918], log:true, xd:[0.71,2820], yd:[-12.2,103.9], xt:xtLog, yt:ytR90, yl:REC, cap:["(o)","CM-SC O","3, 7","."], cx:671, cy:986,
  series:[{c:"IDP",k:"circle",d:oIdp7,mk:mkOi,sd:0.3},{c:"IDP",k:"star",d:oIdp3,mk:mkOi,sd:0.3},
          {c:"INO",k:"circle",d:oIno7,mk:mkOn,sd:0.3},{c:"INO",k:"star",d:oIno3,mk:mkOn,sd:0.3}],
  legend:[["IDP","IDP",681,841],["INO","INO",681,861],["star","Owner 3",681,881],["circle","Owner 7",681,901]]},
 {id:"p", box:[826,771,1029,918], log:true, xd:[0.71,3100], yd:[-0.19,4.71], xt:xtLog, yt:ytP, yl:LOSS, cap:["(p)","CM-SC O","2, 9","."], cx:904, cy:986,
  series:[{c:"IDP",k:"star",d:pIdp2,mk:mkOi,sd:0.02},{c:"IDP",k:"circle",d:pIdp9,mk:mkOi,sd:0.02},
          {c:"INO",k:"star",d:pIno2,mk:mkOn,sd:0.02},{c:"INO",k:"circle",d:pIno9,mk:mkOn,sd:0.02}],
  legend:[["IDP","IDP",941,787],["INO","INO",941,808],["star","Owner 2",941,828],["circle","9",941,848]]},

 {id:"q", box:[46,1025,247,1170], xd:[-148,3154], yd:[-4.7,89.1], xt:xt3k, yt:ytR80, yl:REC, cap:["(q)","CS-PC O","1, 4, 7, 10","."], cx:132, cy:1238,
  series:[{c:"IDP",k:"circle",d:qIdp10,mk:mkI,sd:2},{c:"IDP",k:"square",d:qIdp7,mk:mkI,sd:2},{c:"IDP",k:"triangle",d:qIdp4,mk:mkI,sd:2},{c:"IDP",k:"star",d:qIdp1,mk:mkI,sd:0.3},
          {c:"INO",k:"circle",d:qIno10,mk:mkI,sd:2},{c:"INO",k:"square",d:qIno7,mk:mkI,sd:2.5},{c:"INO",k:"triangle",d:qIno4,mk:mkI,sd:3},{c:"INO",k:"star",d:qIno1,mk:mkI,sd:2.5}],
  legend:[["star","Group 1",77,1081],["square","Group 7",165,1081],["triangle","Group 4",77,1101],["circle","Group 10",165,1101]]},
 {id:"r", box:[306,1025,507,1170], xd:[-197,4219], yd:[-4.8,66.5], xt:xt4k, yt:ytR60, yl:REC, cap:["(r)","CFS-PC.","",""], cx:406, cy:1238,
  series:[{c:"IDP",k:"circle",d:rIdp2,mk:mkF,sd:2},{c:"IDP",k:"star",d:rIdp1,mk:mkF,sd:1.8},
          {c:"INO",k:"circle",d:rIno2,mk:mkF,sd:2},{c:"INO",k:"star",d:rIno1,mk:mkF,sd:1.8}],
  legend:[["IDP","IDP",391,1146],["INO","INO",391,1166],["star","Cat. 1",448,1146],["circle","Cat. 2",448,1166]]},
 {id:"s", box:[567,1025,768,1170], xd:[-137,3164], yd:[-3.6,89.5], xt:xt3k, yt:ytR80, yl:REC, cap:["(s)","COL-PC O","1, 4, 7, 10","."], cx:652, cy:1238,
  series:[{c:"IDP",k:"circle",d:sIdp10,mk:mkD,sd:2},{c:"IDP",k:"square",d:sIdp7,mk:mkD,sd:2},{c:"IDP",k:"triangle",d:sIdp4,mk:mkD,sd:2.5},{c:"IDP",k:"star",d:sIdp1,mk:mkD,sd:2},
          {c:"INO",k:"circle",d:sIno10,mk:mkSn,sd:2},{c:"INO",k:"square",d:sIno7,mk:mkSn,sd:2},{c:"INO",k:"triangle",d:sIno4,mk:mkSn,sd:3},{c:"INO",k:"star",d:sIno1,mk:mkSn,sd:2.5}],
  legend:[["star","Group 1",597,1081],["square","Group 7",687,1081],["triangle","Group 4",597,1101],["circle","Group 10",687,1101]]},
 {id:"t", box:[826,1025,1027,1170], xd:[-136,3147], yd:[-3.6,89.5], xt:xt3k, yt:ytR80, yl:REC, cap:["(t)","COM-PC O","1, 4, 7, 10","."], cx:910, cy:1238,
  series:[{c:"IDP",k:"circle",d:sIdp10,mk:mkD,sd:2},{c:"IDP",k:"square",d:sIdp7,mk:mkD,sd:2},{c:"IDP",k:"triangle",d:sIdp4,mk:mkD,sd:2.5},{c:"IDP",k:"star",d:sIdp1,mk:mkD,sd:2},
          {c:"INO",k:"circle",d:sIno10,mk:mkSn,sd:2},{c:"INO",k:"square",d:sIno7,mk:mkSn,sd:2},{c:"INO",k:"triangle",d:sIno4,mk:mkSn,sd:3},{c:"INO",k:"star",d:sIno1,mk:mkSn,sd:2.5}],
  legend:[["star","Group 1",857,1081],["square","Group 7",947,1081],["triangle","Group 4",857,1101],["circle","Group 10",947,1101]]},

 {id:"u", box:[179,1277,380,1424], xd:[-148,3148], yd:[-4.5,65.3], xt:xt3k, yt:ytR60, yl:REC, cap:["(u)","CH-PC O","24, 50, 76","."], cx:262, cy:1491,
  series:[{c:"IDP",k:"circle",d:uIdp76,mk:mkI,sd:5},{c:"IDP",k:"triangle",d:uIdp50,mk:mkI,sd:5},{c:"IDP",k:"star",d:uIdp24,mk:mkI,sd:5},
          {c:"INO",k:"circle",d:uIno76,mk:mkI,sd:5},{c:"INO",k:"triangle",d:uIno50,mk:mkI,sd:5},{c:"INO",k:"star",d:uIno24,mk:mkI,sd:5}],
  legend:[["triangle","50",337,1395],["star","Owner 24",237,1414],["circle","76",337,1414]]},
 {id:"v", box:[440,1277,640,1424], xd:[-133,3163], yd:[-17.6,83.1], xt:xt3k, yt:ytR75, yl:REC, cap:["(v)","CH-PC O","31, 63, 95","."], cx:523, cy:1491,
  series:[{c:"IDP",k:"circle",d:vIdp95,mk:mkI,sd:6},{c:"IDP",k:"triangle",d:vIdp63,mk:mkI,sd:5},{c:"IDP",k:"star",d:vIdp31,mk:mkI,sd:2},
          {c:"INO",k:"circle",d:vIno95,mk:mkI,sd:6},{c:"INO",k:"triangle",d:vIno63,mk:mkI,sd:5},{c:"INO",k:"star",d:vIno31,mk:mkI,sd:3}],
  legend:[["star","Owner 31",445,1414],["triangle","63",545,1414],["circle","95",599,1414]]},
 {id:"w", box:[700,1277,900,1424], xd:[-148,3148], yd:[-5,54.6], xt:xt3k, yt:ytR40, yl:REC, cap:["(w)","CH-PC O","22, 58, 98","."], cx:785, cy:1491,
  series:[{c:"IDP",k:"circle",d:wIdp98,mk:mkI,sd:5},{c:"IDP",k:"triangle",d:wIdp58,mk:mkI,sd:4},{c:"IDP",k:"star",d:wIdp22,mk:mkI,sd:3},
          {c:"INO",k:"circle",d:wIno98,mk:mkI,sd:5},{c:"INO",k:"triangle",d:wIno58,mk:mkI,sd:4},{c:"INO",k:"star",d:wIno22,mk:mkI,sd:4}],
  legend:[["triangle","58",860,1396],["star","Owner 22",760,1415],["circle","98",860,1415]]}
];

var colors = {IDP:"#0072b2", INO:"#d55e00"};
var shapes = {circle:[d3.symbolCircle,95], star:[d3.symbolStar,36], triangle:[d3.symbolTriangle,52], square:[d3.symbolSquare,80]};

var svg = d3.select("#fig");
var defs = svg.append("defs");

function sym(k) {
  return d3.symbol().type(shapes[k][0]).size(shapes[k][1])();
}

panels.forEach(function(p) {
  var x0 = p.box[0], y0 = p.box[1], x1 = p.box[2], y1 = p.box[3];
  var x = (p.log ? d3.scaleLog() : d3.scaleLinear()).domain(p.xd).range([x0, x1]);
  var y = d3.scaleLinear().domain(p.yd).range([y1, y0]);
  var g = svg.append("g").attr("class", "panel-" + p.id);

  defs.append("clipPath").attr("id", "clip-" + p.id)
    .append("rect").attr("x", x0).attr("y", y0).attr("width", x1 - x0).attr("height", y1 - y0);
  var plot = g.append("g").attr("clip-path", "url(#clip-" + p.id + ")");

  // spread bands
  p.series.forEach(function(s) {
    var sdv = function(d) { return d.length > 2 ? d[2] : s.sd; };
    plot.append("path").datum(s.d)
      .attr("fill", colors[s.c]).attr("fill-opacity", 0.28)
      .attr("d", d3.area().x(function(d) { return x(d[0]); })
        .y0(function(d) { return y(d[1] - sdv(d)); })
        .y1(function(d) { return y(d[1] + sdv(d)); }));
  });
  // mean lines
  p.series.forEach(function(s) {
    plot.append("path").datum(s.d)
      .attr("fill", "none").attr("stroke", colors[s.c]).attr("stroke-width", 1.3)
      .attr("d", d3.line().x(function(d) { return x(d[0]); }).y(function(d) { return y(d[1]); }));
  });
  // markers
  p.series.forEach(function(s) {
    var pts = s.d.filter(function(d) { return s.mk.indexOf(d[0]) >= 0; });
    plot.selectAll(null).data(pts).enter().append("path")
      .attr("d", sym(s.k))
      .attr("transform", function(d) { return "translate(" + x(d[0]) + "," + y(d[1]) + ")"; })
      .attr("fill", colors[s.c]).attr("stroke", "#000").attr("stroke-width", 0.8);
  });

  // frame
  g.append("rect").attr("x", x0).attr("y", y0).attr("width", x1 - x0).attr("height", y1 - y0)
    .attr("fill", "none").attr("stroke", "#222").attr("stroke-width", 1);

  // axes
  var xa = g.append("g").attr("transform", "translate(0," + y1 + ")")
    .call(d3.axisBottom(x).tickValues(p.xt).tickFormat(function(v) { return String(v); })
      .tickSize(3.5).tickPadding(3.5));
  var ya = g.append("g").attr("transform", "translate(" + x0 + ",0)")
    .call(d3.axisLeft(y).tickValues(p.yt)
      .tickFormat(function(v, i) { return p.ytl ? p.ytl[i] : String(v); })
      .tickSize(3.5).tickPadding(3.5));
  [xa, ya].forEach(function(a) {
    a.select(".domain").remove();
    a.attr("color", "#000");
  });

  // axis labels
  var xl = g.append("text").attr("class", "lab")
    .attr("x", (x0 + x1) / 2).attr("y", y1 + 32).attr("text-anchor", "middle");
  xl.append("tspan").text("No. of iterations ");
  xl.append("tspan").attr("font-style", "italic").text("t");

  // y label sits just left of the widest tick label
  var minLeft = 0;
  ya.selectAll(".tick text").each(function() {
    var b = this.getBBox();
    minLeft = Math.min(minLeft, b.x);
  });
  var ylx = x0 + minLeft - 9;
  g.append("text").attr("class", "lab")
    .attr("transform", "translate(" + ylx + "," + ((y0 + y1) / 2) + ") rotate(-90)")
    .attr("text-anchor", "middle").attr("dominant-baseline", "central")
    .text(p.yl);

  // legend
  p.legend.forEach(function(e) {
    var kind = e[0], cx = e[2], cy = e[3];
    if (kind === "IDP" || kind === "INO") {
      g.append("line").attr("x1", cx - 10).attr("x2", cx + 10).attr("y1", cy).attr("y2", cy)
        .attr("stroke", colors[kind]).attr("stroke-width", 2.2);
    } else {
      g.append("line").attr("x1", cx - 10).attr("x2", cx + 10).attr("y1", cy).attr("y2", cy)
        .attr("stroke", "#000").attr("stroke-width", 1.4);
      g.append("path").attr("d", sym(kind)).attr("transform", "translate(" + cx + "," + cy + ")")
        .attr("fill", "#000");
    }
    g.append("text").attr("class", "leg").attr("x", cx + 17).attr("y", cy)
      .attr("dominant-baseline", "central").text(e[1]);
  });

  // caption
  var cap = svg.append("text").attr("class", "cap")
    .attr("x", p.cx).attr("y", p.cy).attr("text-anchor", "middle");
  cap.append("tspan").text(p.cap[0] + " ");
  cap.append("tspan").attr("dx", 4).attr("font-weight", "bold").text(p.cap[1]);
  if (p.cap[2]) {
    cap.append("tspan").text(p.cap[2]);
    cap.append("tspan").attr("font-weight", "bold").text(p.cap[3]);
  }
});
</script>
</body>
